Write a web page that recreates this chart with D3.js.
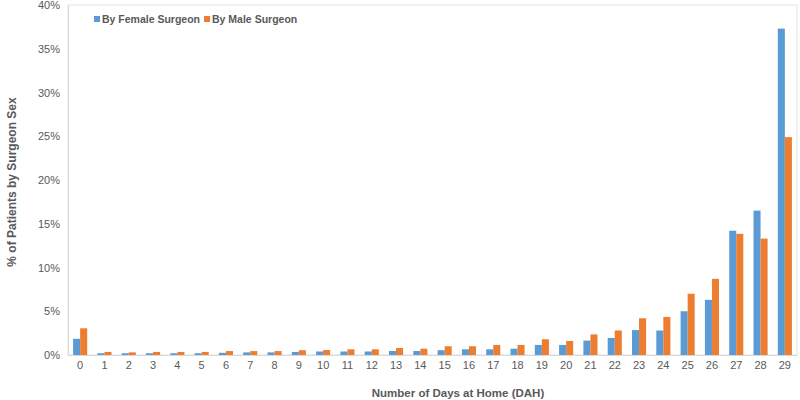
<!DOCTYPE html>
<html>
<head>
<meta charset="utf-8">
<script src="https://cdn.jsdelivr.net/npm/d3@7"></script>
<style>
  body { margin: 0; background: #fff; }
  text { font-family: "Liberation Sans", Arial, sans-serif; fill: #595959; }
</style>
</head>
<body>
<div id="chart"></div>
<script>
// days at home 0..29
var days = d3.range(0, 30).map(String);
var femaleVals = [1.85, 0.2, 0.2, 0.2, 0.2, 0.2, 0.25, 0.3, 0.3, 0.35,
                  0.4, 0.4, 0.4, 0.46, 0.46, 0.55, 0.65, 0.65, 0.72, 1.15,
                  1.15, 1.65, 1.95, 2.85, 2.8, 5.0, 6.3, 14.2, 16.5, 37.3];
var maleVals   = [3.05, 0.35, 0.3, 0.35, 0.35, 0.35, 0.45, 0.45, 0.45, 0.55,
                  0.57, 0.65, 0.65, 0.8, 0.72, 1.0, 1.0, 1.15, 1.15, 1.8,
                  1.6, 2.35, 2.8, 4.2, 4.35, 7.0, 8.7, 13.85, 13.3, 24.9];
var seriesNames = ["By Female Surgeon", "By Male Surgeon"];
var colors = ["#5B9BD5", "#ED7D31"];
var yTicks = [0, 5, 10, 15, 20, 25, 30, 35, 40];

var W = 800, H = 400;
var margin = {left: 68, right: 3, top: 5, bottom: 45};

var svg = d3.select("#chart").append("svg")
    .attr("width", W)
    .attr("height", H);

var x = d3.scaleBand()
    .domain(days)
    .range([margin.left, W - margin.right])
    .paddingInner(0.42)
    .paddingOuter(0.21);

var sub = d3.scaleBand()
    .domain([0, 1])
    .range([0, x.bandwidth()]);

var y = d3.scaleLinear()
    .domain([0, 40])
    .range([H - margin.bottom, margin.top]);

// plot border
svg.append("rect")
    .attr("x", margin.left)
    .attr("y", margin.top)
    .attr("width", W - margin.right - margin.left)
    .attr("height", H - margin.bottom - margin.top)
    .attr("fill", "none")
    .attr("stroke", "#e3e3e3")
    .attr("stroke-width", 1);

var rows = days.map(function(d, i) { return {day: d, vals: [femaleVals[i], maleVals[i]]}; });

var groups = svg.selectAll(".grp")
    .data(rows)
    .enter().append("g")
    .attr("transform", function(d) { return "translate(" + x(d.day) + ",0)"; });

groups.selectAll("rect")
    .data(function(d) { return d.vals; })
    .enter().append("rect")
    .attr("x", function(d, i) { return sub(i); })
    .attr("width", sub.bandwidth())
    .attr("y", function(d) { return y(d); })
    .attr("height", function(d) { return y(0) - y(d); })
    .attr("fill", function(d, i) { return colors[i]; });

// axes
var xAxis = svg.append("g")
    .attr("transform", "translate(0," + y(0) + ")")
    .call(d3.axisBottom(x).tickSize(0).tickPadding(6));
xAxis.select(".domain").attr("stroke", "#d9d9d9");
xAxis.selectAll("text").style("font-size", "11px").attr("fill", "#595959");

var yAxis = svg.append("g")
    .attr("transform", "translate(" + margin.left + ",0)")
    .call(d3.axisLeft(y).tickValues(yTicks).tickSize(0).tickPadding(8)
        .tickFormat(function(d) { return d + "%"; }));
yAxis.select(".domain").attr("stroke", "#d9d9d9");
yAxis.selectAll("text").style("font-size", "11px").attr("fill", "#595959");

// axis titles
svg.append("text")
    .attr("x", 458)
    .attr("y", 397)
    .attr("text-anchor", "middle")
    .style("font-size", "11.5px")
    .style("font-weight", "bold")
    .text("Number of Days at Home (DAH)");

svg.append("text")
    .attr("transform", "translate(16,182) rotate(-90)")
    .attr("text-anchor", "middle")
    .style("font-size", "12px")
    .style("font-weight", "bold")
    .text("% of Patients by Surgeon Sex");

// legend
var legend = svg.append("g").attr("transform", "translate(94,20)");
var lx = 0;
seriesNames.forEach(function(name, i) {
  legend.append("rect")
      .attr("x", lx)
      .attr("y", -4)
      .attr("width", 6)
      .attr("height", 6)
      .attr("fill", colors[i]);
  var t = legend.append("text")
      .attr("x", lx + 8)
      .attr("y", 3)
      .style("font-size", "10.5px")
      .style("font-weight", "bold")
      .text(name);
  lx += 8 + t.node().getComputedTextLength() + 4;
});
</script>
</body>
</html>
